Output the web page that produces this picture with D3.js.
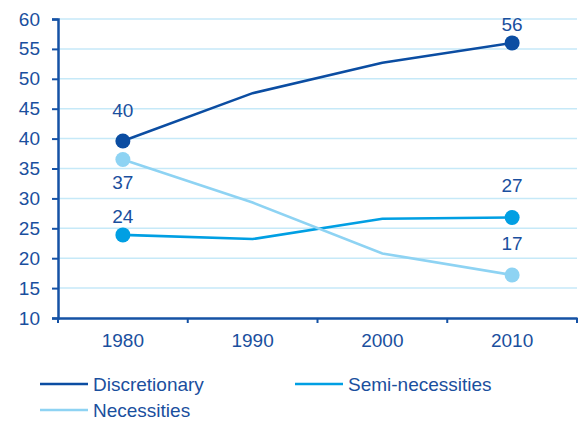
<!DOCTYPE html>
<html>
<head>
<meta charset="utf-8">
<script src="https://cdn.jsdelivr.net/npm/d3@7"></script>
<style>
  body { margin: 0; background: #fff; }
  text { font-family: "Liberation Sans", Arial, sans-serif; }
</style>
</head>
<body>
<div id="chart"></div>
<script>
var years = ["1980", "1990", "2000", "2010"];
var discretionary = [39.6, 47.6, 52.7, 56.0];
var semiNecessities = [23.9, 23.2, 26.6, 26.8];
var necessities = [36.5, 29.3, 20.8, 17.2];
var yTicks = [10, 15, 20, 25, 30, 35, 40, 45, 50, 55, 60];

var seriesNames = ["Discretionary", "Semi-necessities", "Necessities"];
var seriesColors = ["#0b4da2", "#009fe3", "#8ed3f3"];
var textColor = "#1a4f9e";
var axisColor = "#1552a5";
var fontSize = "19px";

var width = 581, height = 421;
var margin = {top: 19, left: 58, right: 4, bottom: 103};

var svg = d3.select("#chart")
  .append("svg")
  .attr("width", width)
  .attr("height", height);

var x = d3.scaleBand()
  .domain(years)
  .range([margin.left, width - margin.right]);

var y = d3.scaleLinear()
  .domain([10, 60])
  .range([height - margin.bottom, margin.top]);

// grid lines
svg.append("g")
  .selectAll("line")
  .data(yTicks.slice(1))
  .enter().append("line")
  .attr("x1", margin.left)
  .attr("x2", width - margin.right)
  .attr("y1", function (d) { return y(d); })
  .attr("y2", function (d) { return y(d); })
  .attr("stroke", "#c6e9f8")
  .attr("stroke-width", 1.5);

// y axis
var yAxis = svg.append("g")
  .attr("transform", "translate(" + margin.left + ",0)")
  .call(d3.axisLeft(y).tickValues(yTicks).tickSize(6).tickPadding(12));

// x axis
var xAxis = svg.append("g")
  .attr("transform", "translate(0," + y(10) + ")")
  .call(d3.axisBottom(x).tickSize(0).tickPadding(16));

// x axis tick marks at band edges
svg.append("g")
  .selectAll("line")
  .data(years.concat(["end"]))
  .enter().append("line")
  .attr("x1", function (d, i) { return i < years.length ? x(d) : x.range()[1]; })
  .attr("x2", function (d, i) { return i < years.length ? x(d) : x.range()[1]; })
  .attr("y1", y(10))
  .attr("y2", y(10) + 5)
  .attr("stroke", axisColor)
  .attr("stroke-width", 2);

[yAxis, xAxis].forEach(function (a) {
  a.select(".domain").attr("stroke", axisColor).attr("stroke-width", 2.5);
  a.selectAll(".tick line").attr("stroke", axisColor).attr("stroke-width", 2);
  a.selectAll(".tick text")
    .attr("fill", textColor)
    .style("font-size", fontSize)
    .style("font-family", "'Liberation Sans', Arial, sans-serif");
});

var allSeries = [discretionary, semiNecessities, necessities];

var line = d3.line()
  .x(function (d, i) { return x(years[i]) + x.bandwidth() / 2; })
  .y(function (d) { return y(d); });

// draw lines
allSeries.forEach(function (s, k) {
  svg.append("path")
    .datum(s)
    .attr("fill", "none")
    .attr("stroke", seriesColors[k])
    .attr("stroke-width", 2.6)
    .attr("d", line);
});

// end points (first and last year)
allSeries.forEach(function (s, k) {
  [0, years.length - 1].forEach(function (i) {
    svg.append("circle")
      .attr("cx", x(years[i]) + x.bandwidth() / 2)
      .attr("cy", y(s[i]))
      .attr("r", 7.5)
      .attr("fill", seriesColors[k]);
  });
});

// value labels: [series, year index, dy offset]
var labels = [
  [0, 0, -31], [0, 3, -19],
  [1, 0, -19], [1, 3, -32],
  [2, 0, 23], [2, 3, -32]
];
svg.append("g")
  .selectAll("text")
  .data(labels)
  .enter().append("text")
  .attr("x", function (d) { return x(years[d[1]]) + x.bandwidth() / 2; })
  .attr("y", function (d) { return y(allSeries[d[0]][d[1]]) + d[2]; })
  .attr("dy", "0.35em")
  .attr("text-anchor", "middle")
  .attr("fill", textColor)
  .style("font-size", fontSize)
  .text(function (d) { return Math.round(allSeries[d[0]][d[1]]); });

// legend
var legendPos = [[40, 384], [295, 384], [40, 410]];
var legend = svg.selectAll(".legend")
  .data(seriesNames)
  .enter().append("g")
  .attr("class", "legend")
  .attr("transform", function (d, i) {
    return "translate(" + legendPos[i][0] + "," + legendPos[i][1] + ")";
  });

legend.append("line")
  .attr("x1", 0)
  .attr("x2", 48)
  .attr("stroke", function (d, i) { return seriesColors[i]; })
  .attr("stroke-width", 2.6);

legend.append("text")
  .attr("x", 53)
  .attr("dy", "0.35em")
  .attr("fill", textColor)
  .style("font-size", fontSize)
  .text(function (d) { return d; });
</script>
</body>
</html>
